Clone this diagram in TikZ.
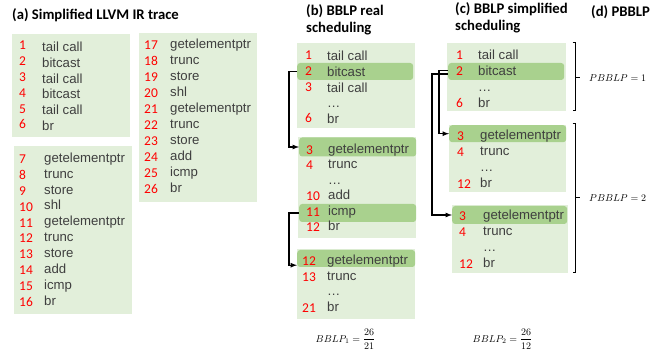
\documentclass[tikz,border=0pt]{standalone}
\usepackage{fontspec}
\setmainfont{Liberation Sans}
\newfontfamily\calibri{Carlito}
\usetikzlibrary{arrows}

\definecolor{boxfill}{HTML}{E2EFDA}
\definecolor{rowfill}{HTML}{A9D18E}
\definecolor{optext}{HTML}{3F3F3F}

\begin{document}
\begin{tikzpicture}[x=1pt, y=-1pt,
    box/.style={fill=boxfill, inner sep=0pt, anchor=north west},
    hl/.style={fill=rowfill, rounded corners=3pt, inner sep=0pt, minimum height=18, anchor=west},
    num/.style={text=red, font=\calibri\fontsize{13.5}{14}\selectfont, inner sep=0pt, anchor=base west},
    op/.style={text=optext, font=\fontsize{13.2}{14}\selectfont, inner sep=0pt, anchor=base west},
    heading/.style={font=\calibri\bfseries\fontsize{14.7}{16}\selectfont, inner sep=0pt, anchor=base west},
    link/.style={-latex, line width=1.2pt},
    lp/.style={font=\fontsize{10.3}{12}\selectfont, inner sep=0pt}]
  \useasboundingbox (0,0) rectangle (664,352);

  % headings
  \node[heading] (ta) at (12,19.5) {(a) Simplified LLVM IR trace};
  \node[heading] (tb) at (306,16) {(b) BBLP real};
  \node[heading] (tb2) at (306,32.5) {scheduling};
  \node[heading] (tc) at (455,14) {(c) BBLP simplified};
  \node[heading] (tc2) at (455,30.5) {scheduling};
  \node[heading] (td) at (591,16.5) {(d) PBBLP};

  % (a) trace
  \node[box, minimum width=118, minimum height=103] (a1) at (12,34) {};
  \foreach \n/\op [count=\i from 0] in {1/tail call,2/bitcast,3/tail call,4/bitcast,5/tail call,6/br} {
    \node[num] (a1n\i) at (19,{50+15.8*\i}) {\n};
    \node[op] (a1o\i) at (42,{51.5+15.8*\i}) {\op};
  }
  \node[box, minimum width=118, minimum height=168] (a2) at (14,146) {};
  \foreach \n/\op [count=\i from 0] in {7/getelementptr,8/trunc,9/store,10/shl,11/getelementptr,
      12/trunc,13/store,14/add,15/icmp,16/br} {
    \node[num] (a2n\i) at (19,{163.5+15.9*\i}) {\n};
    \node[op] (a2o\i) at (44,{162.3+15.9*\i}) {\op};
  }
  \node[box, minimum width=118, minimum height=169] (a3) at (139,33) {};
  \foreach \n/\op [count=\i from 0] in {17/getelementptr,18/trunc,19/store,20/shl,21/getelementptr,
      22/trunc,23/store,24/add,25/icmp,26/br} {
    \node[num] (a3n\i) at (144,{49.5+16.04*\i}) {\n};
    \node[op] (a3o\i) at (170,{48.3+16.04*\i}) {\op};
  }

  % (b) real scheduling
  \node[box, minimum width=118, minimum height=85] (b1) at (297,43) {};
  \node[hl, minimum width=116, minimum height=17] (b1hl) at (297,71.5) {};
  \foreach \n/\op [count=\i from 0] in {1/tail call,2/bitcast,3/tail call,/…,6/br} {
    \node[num] (b1n\i) at (305,{60+15.6*\i}) {\n};
    \node[op] (b1o\i) at (327,{61+15.6*\i}) {\op};
  }
  \node[box, minimum width=118, minimum height=101] (b2) at (298,137) {};
  \node[hl, minimum width=117, minimum height=19] (b2hl) at (299,147) {};
  \node[hl, minimum width=117] (b2hl2) at (299,213) {};
  \foreach \n/\op [count=\i from 0] in {3/getelementptr,4/trunc,/…,10/add,11/icmp,12/br} {
    \node[num] (b2n\i) at (306,{154.5+15.5*\i}) {\n};
    \node[op] (b2o\i) at (328,{153.3+15.5*\i}) {\op};
  }
  \node[box, minimum width=118, minimum height=70] (b3) at (297,249) {};
  \node[hl, minimum width=118, minimum height=17] (b3hl) at (297,258.5) {};
  \foreach \n/\op [count=\i from 0] in {12/getelementptr,13/trunc,/…,21/br} {
    \node[num] (b3n\i) at (302,{265.5+15.8*\i}) {\n};
    \node[op] (b3o\i) at (327,{264.3+15.8*\i}) {\op};
  }
  \node[lp] (bblp1) at (345.5,339) {$\displaystyle BBLP_1=\frac{26}{21}$};

  % (c) simplified scheduling
  \node[box, minimum width=119, minimum height=68] (c1) at (447,43) {};
  \node[hl, minimum width=116, minimum height=17] (c1hl) at (448,71.5) {};
  \foreach \n/\op [count=\i from 0] in {1/tail call,2/bitcast,/…,6/br} {
    \node[num] (c1n\i) at (456,{60+15.9*\i}) {\n};
    \node[op] (c1o\i) at (478,{60+15.9*\i}) {\op};
  }
  \node[box, minimum width=117, minimum height=67] (c2) at (449,125) {};
  \node[hl, minimum width=117, minimum height=17] (c2hl) at (449,133.7) {};
  \foreach \n/\op [count=\i from 0] in {3/getelementptr,4/trunc,/…,12/br} {
    \node[num] (c2n\i) at (457,{141+15.8*\i}) {\n};
    \node[op] (c2o\i) at (480,{140+15.8*\i}) {\op};
  }
  \node[box, minimum width=116, minimum height=68] (c3) at (452,205) {};
  \node[hl, minimum width=115] (c3hl) at (452,215) {};
  \foreach \n/\op [count=\i from 0] in {3/getelementptr,4/trunc,/…,12/br} {
    \node[num] (c3n\i) at (459,{221+15.7*\i}) {\n};
    \node[op] (c3o\i) at (483,{220+15.7*\i}) {\op};
  }
  \node[lp] (bblp2) at (502.5,339) {$\displaystyle BBLP_2=\frac{26}{12}$};

  % dependences
  \draw[link] (b1hl.west) -- ++(-8,0) |- (b2hl.west);
  \draw[link] (b2hl2.west) -- ++(-10,0) |- ([yshift=2pt]b3hl.south west);
  \draw[link] ([yshift=1pt]c1hl.west) -- ++(-9,0) |- (c2hl.west);
  \draw[link] ([yshift=-2.5pt]c1hl.west) -- ++(-16,0) |- (c3hl.west);

  % (d) parallel levels
  \draw[thick] (572.5,42.7) -- (575,42.7) -- (575,110) -- (572.5,110);
  \draw[thick] (575,77) -- (580,77);
  \node[lp, anchor=west] (pb1) at (589,78) {$PBBLP=1$};
  \draw[thick] (572.5,123.3) -- (575,123.3) -- (575,272.7) -- (572.5,272.7);
  \draw[thick] (575,197.7) -- (580,197.7);
  \node[lp, anchor=west] (pb2) at (589,198) {$PBBLP=2$};
\end{tikzpicture}
\end{document}
